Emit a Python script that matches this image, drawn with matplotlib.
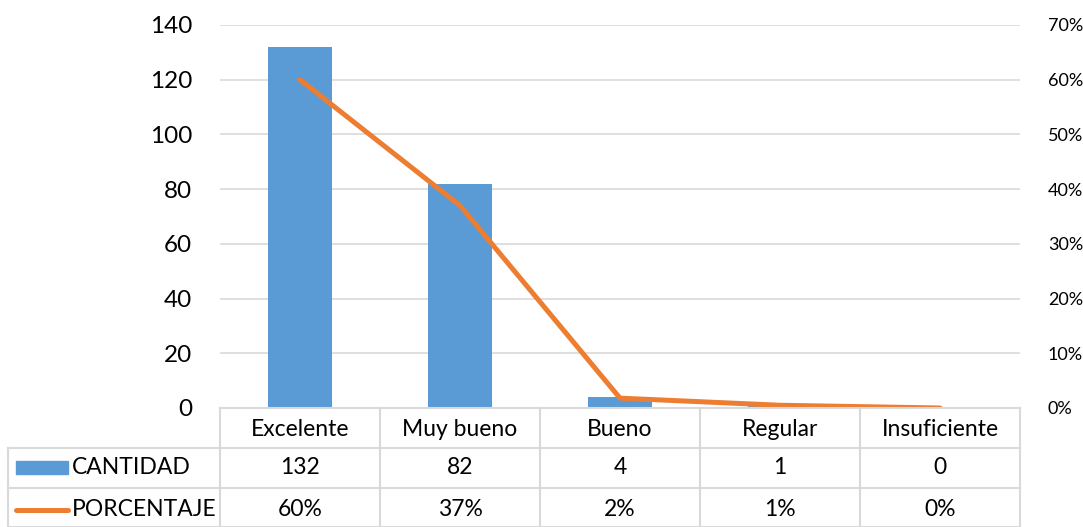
import numpy as np
import matplotlib.pyplot as plt
from matplotlib.transforms import blended_transform_factory
from matplotlib.patches import Rectangle
from matplotlib.lines import Line2D

plt.rcParams['font.family'] = ['Lato', 'DejaVu Sans']

categorias = ["Excelente", "Muy bueno", "Bueno", "Regular", "Insuficiente"]
cantidad = [132, 82, 4, 1, 0]
porcentaje = [0.60, 0.37, 0.018, 0.005, 0.0]
etiquetas_pct = ["60%", "37%", "2%", "1%", "0%"]

azul = "#5B9BD5"
naranja = "#ED7D31"
gris = "#D9D9D9"

W, H = 1083, 527
fig = plt.figure(figsize=(W / 100, H / 100), dpi=100)
x0, x1, y0, y1 = 220, 1020, 408, 25
ax = fig.add_axes([x0 / W, 1 - y0 / H, (x1 - x0) / W, (y0 - y1) / H])

x = np.arange(len(categorias))
ax.bar(x, cantidad, width=0.4, color=azul, zorder=2)
ax.set_xlim(-0.5, len(categorias) - 0.5)
ax.set_ylim(0, 140)
ax.set_yticks(range(0, 141, 20))
ax.grid(axis='y', color=gris, linewidth=1.2, zorder=0)
ax.set_xticks([])
ax.tick_params(axis='y', length=0, pad=20, labelsize=17.5)
for s in ax.spines.values():
    s.set_visible(False)

ax2 = ax.twinx()
ax2.plot(x, porcentaje, color=naranja, linewidth=3.6, solid_capstyle='round', zorder=3)
ax2.set_ylim(0, 0.70)
ax2.set_yticks(np.arange(0, 0.71, 0.1))
ax2.set_yticklabels([f"{int(round(v * 100))}%" for v in np.arange(0, 0.71, 0.1)])
ax2.tick_params(axis='y', length=0, pad=20, labelsize=13)
for s in ax2.spines.values():
    s.set_visible(False)

# tabla de datos (coordenadas en pixeles de la figura)
fx = lambda px: px / W
fy = lambda py: 1 - py / H
filas = [408, 448, 488, 527]
bordes = [x0 + i * (x1 - x0) / len(categorias) for i in range(len(categorias) + 1)]
lw = 1.5
fig.add_artist(Line2D([fx(x0), fx(x1)], [fy(408)] * 2, color=gris, lw=lw))
for py in filas[1:]:
    fig.add_artist(Line2D([fx(8), fx(x1)], [fy(py)] * 2, color=gris, lw=lw))
for bx in bordes:
    fig.add_artist(Line2D([fx(bx)] * 2, [fy(408), fy(527)], color=gris, lw=lw))
fig.add_artist(Line2D([fx(8)] * 2, [fy(448), fy(527)], color=gris, lw=lw))

trans = blended_transform_factory(ax.transData, fig.transFigure)
for i, c in enumerate(categorias):
    fig.text(i, fy(429), c, transform=trans, ha='center', va='center', fontsize=16.5)
    fig.text(i, fy(468), str(cantidad[i]), transform=trans, ha='center', va='center', fontsize=16.5)
    fig.text(i, fy(509), etiquetas_pct[i], transform=trans, ha='center', va='center', fontsize=16.5)

fig.add_artist(Rectangle((fx(16), fy(474)), fx(68) - fx(16), fy(461) - fy(474), color=azul))
fig.add_artist(Line2D([fx(16), fx(68)], [fy(510)] * 2, color=naranja, lw=3.6, solid_capstyle='round'))
fig.text(fx(72), fy(468), "CANTIDAD", ha='left', va='center', fontsize=16.5)
fig.text(fx(72), fy(509), "PORCENTAJE", ha='left', va='center', fontsize=16.5)

fig.savefig("out.png", dpi=100)
